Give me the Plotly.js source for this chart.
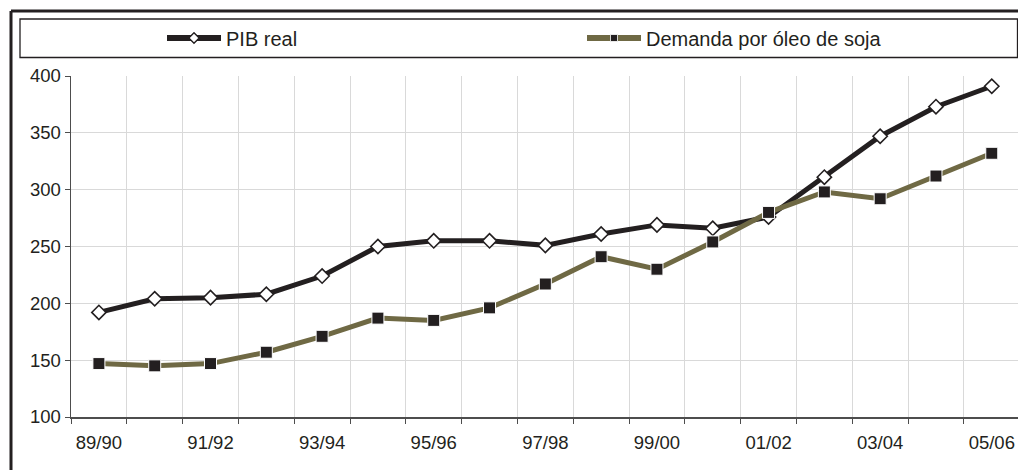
<!DOCTYPE html>
<html>
<head>
<meta charset="utf-8">
<script src="https://cdn.plot.ly/plotly-3.0.1.min.js"></script>
<style>html,body{margin:0;padding:0;background:#fff}#chart{width:1018px;height:470px}</style>
</head>
<body>
<div id="chart"></div>
<script>
const categories = ["89/90","90/91","91/92","92/93","93/94","94/95","95/96","96/97","97/98","98/99","99/00","00/01","01/02","02/03","03/04","04/05","05/06"];
const pibReal = [192, 204, 205, 208, 224, 250, 255, 255, 251, 261, 269, 266, 276, 311, 347, 373, 391];
const demandaOleoSoja = [147, 145, 147, 157, 171, 187, 185, 196, 217, 241, 230, 254, 280, 298, 292, 312, 332];
const seriesNames = ["PIB real", "Demanda por óleo de soja"];
const yTicks = [100, 150, 200, 250, 300, 350, 400];

const W = 1018, H = 470;
const M = {l: 71, r: 0, t: 76, b: 53};
const pw = W - M.l - M.r, ph = H - M.t - M.b;
const px = v => (v - M.l) / pw;
const py = v => 1 - (v - M.t) / ph;

const boundaries = categories.slice(0, -1).map((_, i) => i + 0.5).concat([-0.5]);
const labelIdx = categories.map((_, i) => i).filter(i => i % 2 === 0);

const xr = [-0.5, 16.47];
const textColor = "#231f20";
const pibColor = "#231f20";
const sojaColor = "#6f6944";
const fam = "Liberation Sans, Arial, sans-serif";

const traces = [
  {
    x: categories, y: pibReal, name: seriesNames[0], type: "scatter", mode: "lines+markers", showlegend: false,
    line: {color: pibColor, width: 5},
    marker: {symbol: "diamond", size: 11, color: "#ffffff", line: {color: pibColor, width: 1.6}}
  },
  {
    x: categories, y: demandaOleoSoja, name: seriesNames[1], type: "scatter", mode: "lines+markers", showlegend: false,
    line: {color: sojaColor, width: 5},
    marker: {symbol: "square", size: 12, color: "#231f20", line: {color: "#ffffff", width: 1}}
  },
  // legend-only entries (smaller symbols, as in the reference legend)
  {
    x: [categories[0]], y: [null], name: seriesNames[0], type: "scatter", mode: "lines+markers", hoverinfo: "skip",
    line: {color: pibColor, width: 6},
    marker: {symbol: "diamond", size: 8, color: "#ffffff", line: {color: pibColor, width: 1.4}}
  },
  {
    x: [categories[0]], y: [null], name: seriesNames[1], type: "scatter", mode: "lines+markers", hoverinfo: "skip",
    line: {color: sojaColor, width: 6},
    marker: {symbol: "square", size: 7, color: "#231f20", line: {color: "#ffffff", width: 0.8}}
  },
  // invisible trace so xaxis2 is drawn
  {x: [0], y: [null], xaxis: "x2", yaxis: "y", showlegend: false, hoverinfo: "skip", mode: "markers"}
];

const layout = {
  width: W, height: H,
  margin: M,
  paper_bgcolor: "#ffffff", plot_bgcolor: "#ffffff",
  font: {family: fam, size: 18, color: textColor},
  showlegend: true,
  legend: {
    orientation: "h", x: px(162), xanchor: "left", y: py(38), yanchor: "middle",
    entrywidth: 351, entrywidthmode: "pixels", itemwidth: 54,
    font: {family: fam, size: 20, color: textColor},
    bgcolor: "rgba(0,0,0,0)", borderwidth: 0
  },
  xaxis: {
    type: "category", range: xr, tickmode: "array",
    tickvals: boundaries, ticktext: boundaries.map(() => ""),
    showticklabels: false, ticks: "outside", ticklen: 5, tickcolor: "#4d4d4d",
    showgrid: true, gridcolor: "#d9d9d9", gridwidth: 1,
    showline: true, linecolor: "#4d4d4d", linewidth: 1.5, zeroline: false, fixedrange: true
  },
  xaxis2: {
    overlaying: "x", type: "linear", range: xr, side: "bottom",
    tickmode: "array", tickvals: labelIdx, ticktext: labelIdx.map(i => categories[i]),
    ticks: "", ticklabelstandoff: 12, showgrid: false, showline: false, zeroline: false,
    tickfont: {family: fam, size: 18.5, color: textColor}
  },
  yaxis: {
    range: [100, 400], tickmode: "array", tickvals: yTicks,
    ticks: "outside", ticklen: 5, tickcolor: "#4d4d4d",
    showgrid: true, gridcolor: "#d9d9d9", gridwidth: 1,
    showline: true, linecolor: "#4d4d4d", linewidth: 1.5, zeroline: false,
    tickfont: {family: fam, size: 18.5, color: textColor}
  },
  shapes: [
    {type: "line", xref: "paper", yref: "paper", x0: px(11), x1: px(1030), y0: py(11), y1: py(11), line: {color: "#231f20", width: 3}},
    {type: "line", xref: "paper", yref: "paper", x0: px(11), x1: px(11), y0: py(11), y1: py(480), line: {color: "#231f20", width: 3}},
    {type: "rect", xref: "paper", yref: "paper", x0: px(20), x1: px(1017.5), y0: py(19), y1: py(57.5), line: {color: "#231f20", width: 1.3}, fillcolor: "rgba(0,0,0,0)"}
  ]
};

Plotly.newPlot("chart", traces, layout, {displayModeBar: false, staticPlot: true});
</script>
</body>
</html>
